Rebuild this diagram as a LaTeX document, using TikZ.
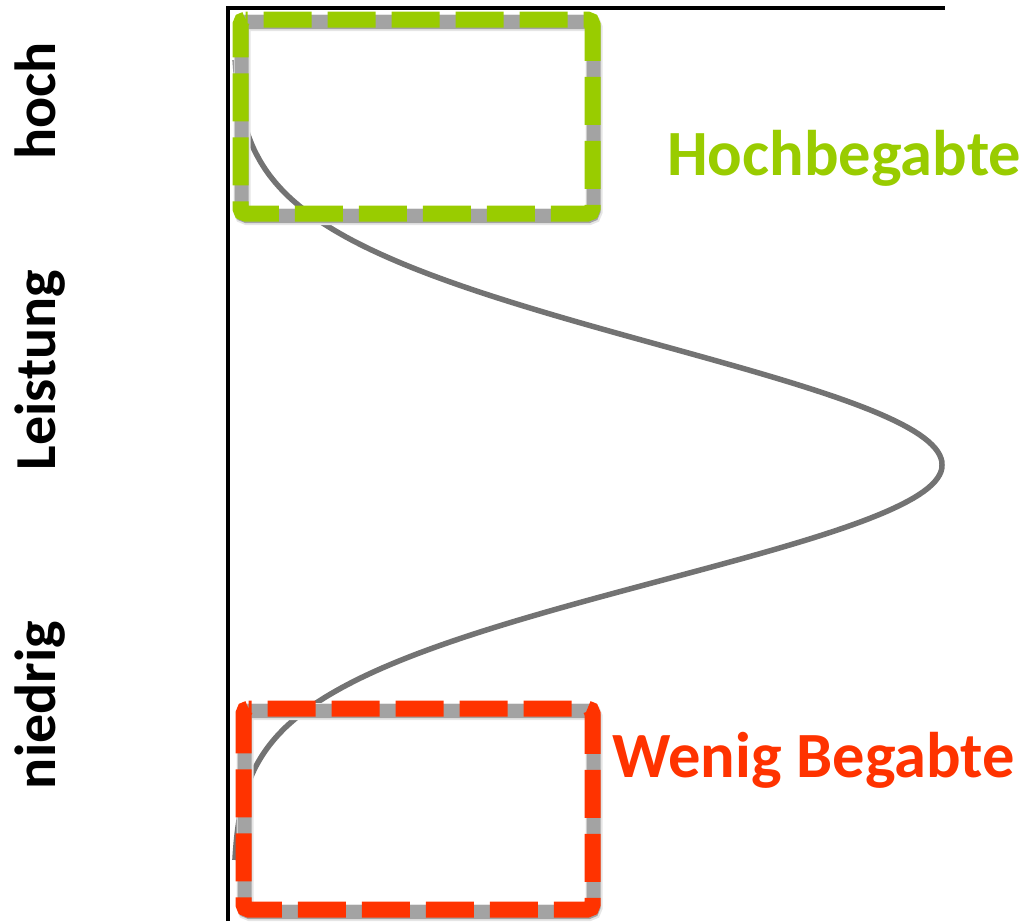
\documentclass[tikz,border=0pt]{standalone}
\usepackage{fontspec}
\setmainfont{Carlito}
\usepackage{tikz}
\definecolor{hochgruen}{HTML}{99CC00}
\definecolor{wenigrot}{HTML}{FF3300}

\begin{document}
\begin{tikzpicture}[x=1pt, y=-1pt,
  achse/.style={line width=4pt},
  kurve/.style={line width=5.5pt, black!55, line join=round},
  schattenweit/.style={line width=17pt, black!10, rounded corners=5pt},
  schatten/.style={line width=14pt, black!36, rounded corners=5pt},
  rahmen/.style={line width=16pt, rounded corners=5pt, dash pattern=on 48pt off 16pt},
  achslabel/.style={rotate=90, anchor=base, inner sep=0pt, font=\fontsize{58}{60}\selectfont\bfseries},
  gruppe/.style={anchor=base west, inner sep=0pt, font=\fontsize{64.5}{68}\selectfont\bfseries}]
\useasboundingbox (0,0) rectangle (1036,921);

% Achsen
\coordinate (ursprung) at (228,921);
\coordinate (oben) at (228,8);
\coordinate (rechts) at (945,8);
\draw[achse] (ursprung) -- (oben) -- (rechts);

% Verteilung der Leistung
\draw[kurve]
plot[domain=60:465, samples=120] ({233+709*exp(-0.5*((\x-465)/119)^2)}, {\x})
-- plot[domain=465:860, samples=120] ({233+709*exp(-0.5*((\x-465)/115)^2)}, {\x});

% Hochbegabte
\draw[schattenweit] (242,22.5) rectangle (594,216.5);
\draw[schatten] (241.5,22) rectangle (593.5,216);
\draw[rahmen, hochgruen, dash phase=46pt]
(240.5,19.5) -- (592.5,19.5) -- (592.5,213.5) -- (240.5,213.5) -- cycle;

% Wenig Begabte
\draw[schattenweit] (245,711.5) rectangle (594,912.5);
\draw[schatten] (244.5,711) rectangle (593.5,912);
\draw[rahmen, wenigrot, dash phase=45pt]
(243.5,708.5) -- (592.5,708.5) -- (592.5,909.5) -- (243.5,909.5) -- cycle;

\node (hoch) at (55,101) [achslabel] {hoch};
\node (leistung) at (55,370) [achslabel] {Leistung};
\node (niedrig) at (55,705) [achslabel] {niedrig};
\node (hochbeg) at (667,175) [gruppe, text=hochgruen] {Hochbegabte};
\node (wenigbeg) at (612,777) [gruppe, text=wenigrot] {Wenig Begabte};
\end{tikzpicture}
\end{document}
